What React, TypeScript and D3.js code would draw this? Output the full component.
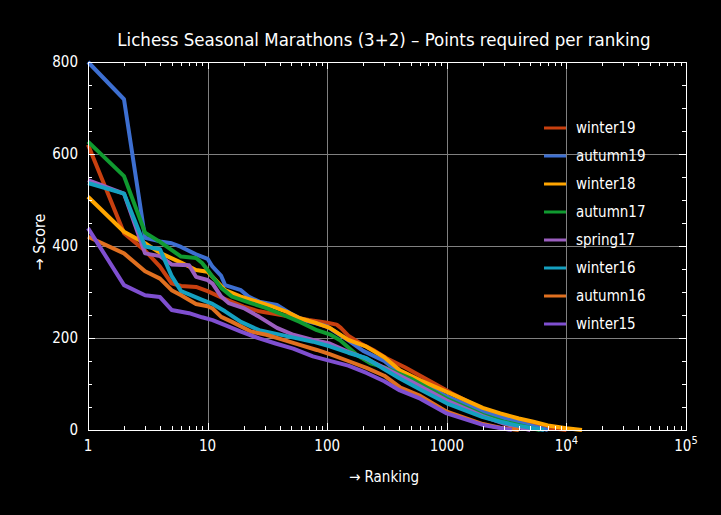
import * as d3 from 'd3'
import React, { useRef, useEffect } from 'react'

// [ranking, score]
const winter19 = [[1, 620], [2, 428], [3, 390], [4, 355], [5, 319], [6, 313], [8, 311], [10, 302], [13, 288], [20, 268], [27, 258], [35, 253], [50, 246], [70, 239], [100, 233], [120, 229], [130, 222], [150, 205], [190, 188], [250, 172], [314, 156], [450, 136], [600, 118], [800, 100], [1100, 80], [1500, 62], [2000, 46], [3000, 31], [5000, 14], [7000, 5], [10000, 0]]
const autumn19 = [[1, 800], [2, 719], [3, 418], [4, 410], [5, 406], [6, 398], [8, 382], [10, 372], [11, 355], [13, 335], [14, 315], [19, 304], [22, 290], [27, 279], [38, 272], [49, 254], [63, 239], [80, 232], [100, 225], [150, 195], [200, 172], [300, 150], [400, 124], [600, 103], [1000, 73], [2000, 40], [3000, 26], [5000, 10], [7000, 0]]
const winter18 = [[1, 507], [2, 431], [3, 406], [4, 385], [6, 364], [8, 348], [10, 344], [11, 333], [14, 304], [19, 290], [26, 279], [35, 268], [46, 257], [59, 243], [82, 232], [105, 222], [150, 196], [213, 181], [300, 158], [405, 130], [600, 108], [1000, 83], [2000, 48], [2800, 36], [4000, 25], [5300, 18], [7000, 10], [10000, 4], [13500, 0]]
const autumn17 = [[1, 627], [2, 552], [3, 429], [4, 409], [6, 377], [8, 374], [9, 363], [10, 348], [11, 333], [13, 309], [16, 290], [23, 276], [31, 265], [43, 250], [59, 235], [82, 217], [105, 208], [128, 195], [180, 162], [230, 145], [300, 136], [500, 112], [1000, 68], [2000, 33], [3000, 18], [5000, 5], [6000, 0]]
const spring17 = [[1, 543], [2, 514], [3, 384], [4, 378], [5, 360], [7, 358], [8, 333], [10, 326], [11, 318], [13, 290], [15, 276], [20, 265], [27, 246], [38, 222], [52, 207], [76, 196], [105, 188], [150, 170], [200, 158], [300, 135], [500, 106], [1000, 64], [2000, 30], [3000, 14], [4000, 6], [5000, 0]]
const winter16 = [[1, 537], [2, 514], [3, 399], [4, 393], [5, 335], [6, 302], [7, 295], [9, 283], [11, 274], [14, 258], [19, 235], [27, 217], [36, 210], [48, 203], [76, 192], [105, 182], [150, 168], [213, 156], [300, 132], [405, 112], [600, 88], [1000, 58], [2000, 28], [2800, 18], [4000, 9], [5300, 4], [6500, 0]]
const autumn16 = [[1, 420], [2, 384], [3, 345], [4, 329], [5, 304], [6, 293], [8, 274], [10, 269], [11, 264], [13, 246], [16, 235], [23, 214], [31, 207], [43, 196], [59, 185], [82, 174], [105, 165], [150, 150], [213, 135], [300, 118], [405, 93], [600, 74], [1000, 40], [2000, 13], [2800, 5], [4000, 0]]
const winter15 = [[1, 439], [2, 315], [3, 293], [4, 289], [5, 261], [6, 257], [7, 254], [9, 245], [11, 239], [14, 228], [19, 214], [27, 199], [37, 188], [52, 177], [76, 160], [100, 152], [150, 140], [213, 124], [300, 106], [405, 86], [600, 68], [1000, 36], [2000, 11], [3500, 0]]

const seriesNames = ['winter19', 'autumn19', 'winter18', 'autumn17', 'spring17', 'winter16', 'autumn16', 'winter15']
const seriesData = [winter19, autumn19, winter18, autumn17, spring17, winter16, autumn16, winter15]
const seriesColors = ['#c8400f', '#3d6fd1', '#ffa500', '#109a30', '#9b5ebf', '#15a0c0', '#e07020', '#7f4fd0']

const xMajor = [1, 10, 100, 1000, 1e4, 1e5]
const yMajor = [0, 200, 400, 600, 800]

const FONT = '"DejaVu Sans Condensed", "DejaVu Sans", sans-serif'

export default function App() {
    const ref = useRef(null)

    const W = 721
    const H = 515
    const margin = { top: 62, right: 35, bottom: 85, left: 88 }

    useEffect(() => {
        d3.select(ref.current).selectAll('*').remove()

        const svg = d3.select(ref.current)
        const x = d3.scaleLog().domain([1, 1e5]).range([margin.left, W - margin.right])
        const y = d3.scaleLinear().domain([0, 800]).range([H - margin.bottom, margin.top])
        const x0 = x.range()[0], x1 = x.range()[1]
        const y0 = y.range()[0], y1 = y.range()[1]

        svg.append('rect').attr('width', W).attr('height', H).attr('fill', '#000')

        // grid
        const grid = svg.append('g').attr('stroke', '#808080').attr('stroke-width', 1)
        xMajor.slice(1, -1).forEach(v => {
            grid.append('line').attr('x1', Math.round(x(v)) + 0.5).attr('x2', Math.round(x(v)) + 0.5).attr('y1', y1).attr('y2', y0)
        })
        yMajor.slice(1, -1).forEach(v => {
            grid.append('line').attr('y1', Math.round(y(v)) + 0.5).attr('y2', Math.round(y(v)) + 0.5).attr('x1', x0).attr('x2', x1)
        })

        // lines
        const line = d3.line()
            .x(d => x(d[0]))
            .y(d => y(d[1]))
        seriesData.forEach((data, i) => {
            svg.append('path')
                .datum(data)
                .attr('fill', 'none')
                .attr('stroke', seriesColors[i])
                .attr('stroke-width', 4)
                .attr('stroke-linejoin', 'round')
                .attr('d', line)
        })

        // frame
        svg.append('rect')
            .attr('x', x0 + 0.5).attr('y', y1 + 0.5)
            .attr('width', x1 - x0).attr('height', y0 - y1)
            .attr('fill', 'none').attr('stroke', '#fff').attr('stroke-width', 1)

        // ticks
        const ticks = svg.append('g').attr('stroke', '#fff').attr('stroke-width', 1)
        x.ticks().forEach(v => {
            const major = xMajor.includes(v)
            const len = major ? 7 : 4
            const px = Math.round(x(v)) + 0.5
            ticks.append('line').attr('x1', px).attr('x2', px).attr('y1', y0).attr('y2', y0 - len)
            ticks.append('line').attr('x1', px).attr('x2', px).attr('y1', y1).attr('y2', y1 + len)
        })
        d3.range(0, 801, 50).forEach(v => {
            const major = v % 200 === 0
            const len = major ? 7 : 4
            const py = Math.round(y(v)) + 0.5
            ticks.append('line').attr('y1', py).attr('y2', py).attr('x1', x0).attr('x2', x0 + len)
            ticks.append('line').attr('y1', py).attr('y2', py).attr('x1', x1).attr('x2', x1 - len)
        })

        // tick labels
        const labels = svg.append('g').attr('fill', '#fff').style('font-family', FONT).style('font-size', '15px')
        xMajor.forEach(v => {
            const exp = Math.round(Math.log10(v))
            const t = labels.append('text').attr('x', x(v)).attr('y', y0 + 21).attr('text-anchor', 'middle')
            if (exp < 4) {
                t.text(String(v))
            } else {
                t.append('tspan').text('10')
                t.append('tspan').attr('dy', -7).style('font-size', '11px').text(String(exp))
            }
        })
        yMajor.forEach(v => {
            labels.append('text').attr('x', x0 - 10).attr('y', y(v) + 5).attr('text-anchor', 'end').text(String(v))
        })

        // axis titles
        svg.append('text')
            .attr('x', (x0 + x1) / 2 - 3).attr('y', 482)
            .attr('text-anchor', 'middle')
            .attr('fill', '#fff')
            .style('font-family', FONT).style('font-size', '15px')
            .text('\u2192 Ranking')
        svg.append('text')
            .attr('transform', 'translate(45,242) rotate(-90)')
            .attr('text-anchor', 'middle')
            .attr('fill', '#fff')
            .style('font-family', FONT).style('font-size', '16px')
            .text('\u2192 Score')

        // title
        svg.append('text')
            .attr('x', 384).attr('y', 46)
            .attr('text-anchor', 'middle')
            .attr('fill', '#fff')
            .style('font-family', FONT).style('font-size', '18.5px')
            .text('Lichess Seasonal Marathons (3+2) \u2013 Points required per ranking')

        // legend
        const legend = svg.append('g')
        seriesNames.forEach((name, i) => {
            const ly = 128 + i * 28
            legend.append('line')
                .attr('x1', 544).attr('x2', 566).attr('y1', ly).attr('y2', ly)
                .attr('stroke', seriesColors[i]).attr('stroke-width', 3)
            legend.append('text')
                .attr('x', 576).attr('y', ly + 5)
                .attr('fill', '#fff')
                .style('font-family', FONT).style('font-size', '15px')
                .text(name)
        })
    }, [])

    return <svg ref={ref} width={W} height={H} style={{ position: 'absolute', left: 0, top: 0, display: 'block' }} />
}
